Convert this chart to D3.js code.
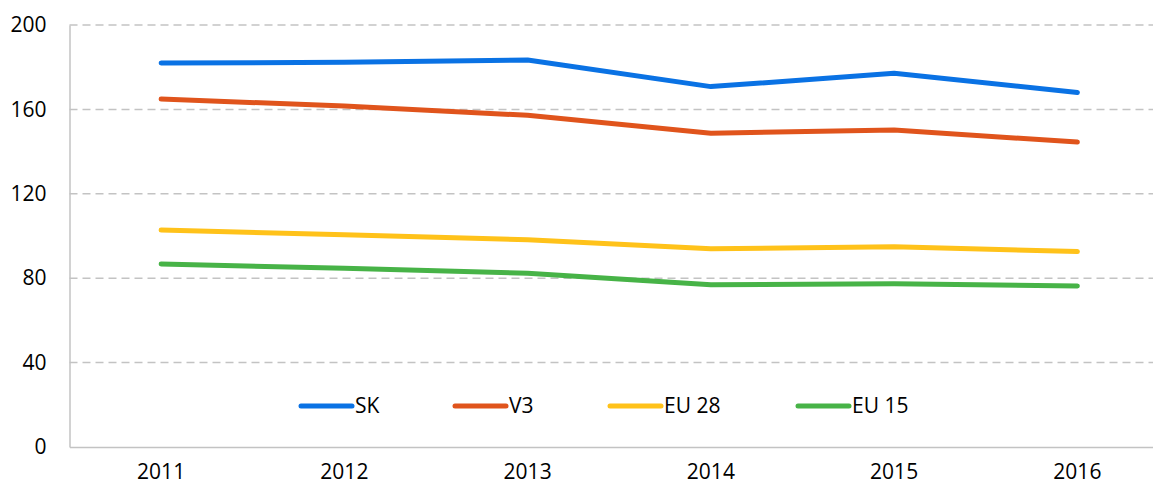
<!DOCTYPE html>
<html>
<head>
<meta charset="utf-8">
<script src="https://cdn.jsdelivr.net/npm/d3@7"></script>
<style>
  body { margin: 0; background: #fff; }
  svg { display: block; font-family: "Open Sans", "Noto Sans", sans-serif; }
</style>
</head>
<body>
<div id="chart"></div>
<script>
const years = ['2011', '2012', '2013', '2014', '2015', '2016'];
const sk = [182.0, 182.3, 183.4, 170.8, 177.1, 168.0];
const v3 = [164.9, 161.6, 157.2, 148.7, 150.2, 144.5];
const eu28 = [102.8, 100.6, 98.2, 93.9, 94.9, 92.6];
const eu15 = [86.7, 84.7, 82.3, 76.9, 77.4, 76.3];
const yTicks = [0, 40, 80, 120, 160, 200];

const series = [
  { name: 'SK', values: sk, color: '#0A72E4' },
  { name: 'V3', values: v3, color: '#E0541C' },
  { name: 'EU 28', values: eu28, color: '#FFC21A' },
  { name: 'EU 15', values: eu15, color: '#47B347' },
];

const w = 1153;
const h = 488;
const m = { t: 25, r: -16, b: 41, l: 69.5 };

const svg = d3.select('#chart').append('svg').attr('width', w).attr('height', h);

const x = d3.scaleBand().domain(years).range([m.l, w - m.r]);
const y = d3.scaleLinear().domain([0, 200]).range([h - m.b, m.t]);

// gridlines
svg
  .append('g')
  .selectAll('line')
  .data(yTicks.filter((d) => d > 0))
  .join('line')
  .attr('x1', m.l)
  .attr('x2', w)
  .attr('y1', (d) => y(d))
  .attr('y2', (d) => y(d))
  .attr('stroke', '#c3c3c3')
  .attr('stroke-width', 1.5)
  .attr('stroke-dasharray', '8,5');

// axes
const yAxis = svg
  .append('g')
  .attr('transform', `translate(${m.l},0)`)
  .call(d3.axisLeft(y).tickValues(yTicks).tickSize(0).tickPadding(23));
yAxis.select('.domain').attr('stroke', '#c3c3c3').attr('stroke-width', 1.5);
yAxis.selectAll('text').attr('font-size', 21).attr('fill', '#000').attr('font-family', 'Open Sans');

const xAxis = svg
  .append('g')
  .attr('transform', `translate(0,${h - m.b})`)
  .call(d3.axisBottom(x).tickSize(0).tickPadding(17));
xAxis.select('.domain').attr('stroke', '#c3c3c3').attr('stroke-width', 1.5);
xAxis.selectAll('text').attr('font-size', 21).attr('fill', '#000').attr('font-family', 'Open Sans');

// lines
const line = d3
  .line()
  .x((d, i) => x(years[i]) + x.bandwidth() / 2)
  .y((d) => y(d));

svg
  .append('g')
  .selectAll('path')
  .data(series)
  .join('path')
  .attr('d', (d) => line(d.values))
  .attr('fill', 'none')
  .attr('stroke', (d) => d.color)
  .attr('stroke-width', 5)
  .attr('stroke-linecap', 'round')
  .attr('stroke-linejoin', 'round');

// legend
const legendX = [299, 453, 608, 796];
const legendY = 406;
const leg = svg
  .append('g')
  .selectAll('g')
  .data(series)
  .join('g')
  .attr('transform', (d, i) => `translate(${legendX[i]},${legendY})`);

leg
  .append('line')
  .attr('x1', 2)
  .attr('x2', 53)
  .attr('stroke', (d) => d.color)
  .attr('stroke-width', 5)
  .attr('stroke-linecap', 'round');

leg
  .append('text')
  .attr('x', 56)
  .attr('dy', '0.35em')
  .attr('font-size', 21)
  .text((d) => d.name);
</script>
</body>
</html>
